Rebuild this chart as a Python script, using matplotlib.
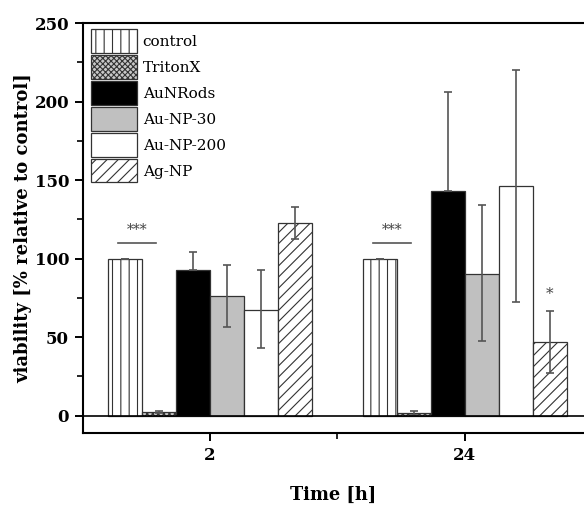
import numpy as np
import matplotlib
matplotlib.use("Agg")
import matplotlib.pyplot as plt
from matplotlib.ticker import MultipleLocator

plt.rcParams['font.family'] = ['DejaVu Serif']
plt.rcParams['hatch.linewidth'] = 0.8

times = ["2", "24"]
series = ["control", "TritonX", "AuNRods", "Au-NP-30", "Au-NP-200", "Ag-NP"]
# viability per series, one value per time point
values = {
    "control":   [100, 100],
    "TritonX":   [2.2, 1.5],
    "AuNRods":   [93, 143],
    "Au-NP-30":  [76.5, 90.5],
    "Au-NP-200": [67.5, 146.5],
    "Ag-NP":     [123, 47],
}
err_low = {
    "control":   [0, 0],
    "TritonX":   [0.5, 0.8],
    "AuNRods":   [0, 0],
    "Au-NP-30":  [20, 43],
    "Au-NP-200": [24.5, 74],
    "Ag-NP":     [10.5, 20],
}
err_high = {
    "control":   [0, 0],
    "TritonX":   [0.5, 1.5],
    "AuNRods":   [11.5, 63.5],
    "Au-NP-30":  [19.5, 43.5],
    "Au-NP-200": [25, 74],
    "Ag-NP":     [10, 20],
}
styles = {
    "control":   dict(facecolor="white", hatch="||"),
    "TritonX":   dict(facecolor="#c8c8c8", hatch="xxxxxx"),
    "AuNRods":   dict(facecolor="black", hatch=None),
    "Au-NP-30":  dict(facecolor="#c0c0c0", hatch=None),
    "Au-NP-200": dict(facecolor="white", hatch=None),
    "Ag-NP":     dict(facecolor="white", hatch="///"),
}

fig = plt.figure(figsize=(5.84, 5.05), dpi=100)
ax = fig.add_axes([0.142, 0.1426, 0.858, 0.8114])

x = np.arange(len(times))
w = 0.1333
for i, s in enumerate(series):
    pos = x + (i - 2.5) * w
    ax.bar(pos, values[s], width=w, edgecolor="#333333", linewidth=0.9,
           label=s, zorder=2, **styles[s])
    ax.errorbar(pos, values[s], yerr=[err_low[s], err_high[s]], fmt="none",
                ecolor="#555555", elinewidth=1.2, capsize=3, capthick=1.2, zorder=3)

# significance marks
for xi in x:
    c0 = xi - 2.5 * w
    ax.plot([c0 - 0.2 * w, c0 + 0.9 * w], [110, 110], color="#555555", lw=1.2, zorder=3)
    ax.text(c0 + 0.35 * w, 114, "***", ha="center", va="bottom", fontsize=10, color="#444444")
ax.text(x[1] + 2.5 * w, 73, "*", ha="center", va="bottom", fontsize=11, color="#444444")

ax.axhline(0, color="black", lw=1.2, zorder=4)

ax.set_ylim(-11, 250)
ax.set_xlim(-0.498, 1.467)
ax.set_xticks(x)
ax.set_xticklabels(times)
ax.xaxis.set_minor_locator(MultipleLocator(0.5))
ax.yaxis.set_major_locator(MultipleLocator(50))
ax.yaxis.set_minor_locator(MultipleLocator(25))
ax.tick_params(which="major", direction="out", length=6, width=1.4, labelsize=12, pad=4)
ax.tick_params(which="minor", direction="out", length=4, width=1.2)
for lab in ax.get_xticklabels() + ax.get_yticklabels():
    lab.set_fontweight("bold")
for sp in ["left", "bottom", "top"]:
    ax.spines[sp].set_linewidth(1.5)
ax.spines["right"].set_visible(False)

ax.set_ylabel("viability [% relative to control]", fontsize=13, fontweight="bold")
ax.set_xlabel("Time [h]", fontsize=12.8, fontweight="bold")
ax.yaxis.set_label_coords(-0.102, 0.5)
ax.xaxis.set_label_coords(0.5, -0.128)

ax.legend(loc="upper left", bbox_to_anchor=(0.017, 0.985), frameon=False, fontsize=11,
          handlelength=3.0, handleheight=2.0, labelspacing=0.15, handletextpad=0.35,
          borderaxespad=0, borderpad=0)

fig.savefig("out.png", dpi=100)
